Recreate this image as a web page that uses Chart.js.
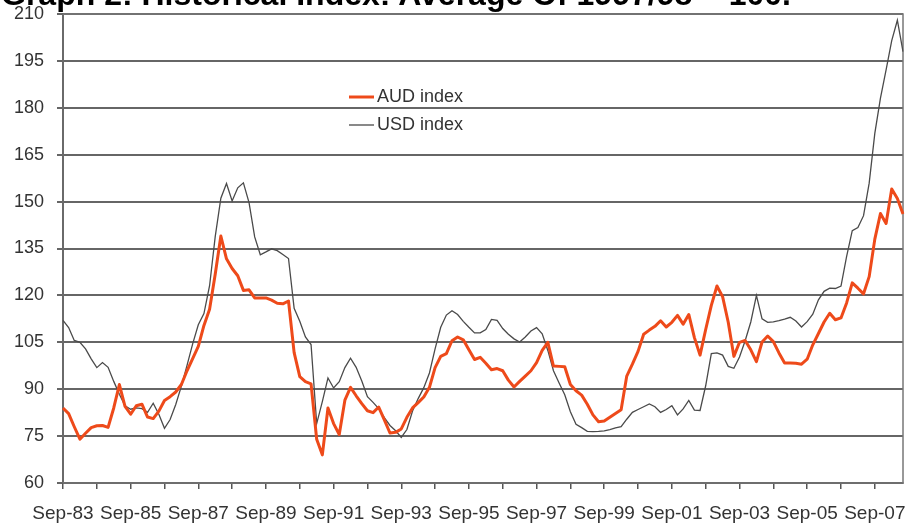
<!DOCTYPE html>
<html>
<head>
<meta charset="utf-8">
<script src="https://cdn.jsdelivr.net/npm/chart.js@4"></script>
<style>
html, body { margin: 0; padding: 0; background: #fff; overflow: hidden; }
#wrap { position: relative; width: 909px; height: 524px; }
#c { position: absolute; left: 0; top: 0; }
#title { position: absolute; left: 1px; top: -22px; font: bold 32px "Liberation Sans", Arial, sans-serif; line-height: 32px; white-space: nowrap; color: #000; }
</style>
</head>
<body>
<div id="wrap">
  <canvas id="c" width="909" height="524"></canvas>
  <div id="title">Graph 2: Historical Index: Average Of 1997/98 = 100.</div>
</div>
<script>
// Eksen etiketleri
const TICK_LABELS = ['Sep-83', 'Sep-85', 'Sep-87', 'Sep-89', 'Sep-91', 'Sep-93', 'Sep-95',
    'Sep-97', 'Sep-99', 'Sep-01', 'Sep-03', 'Sep-05', 'Sep-07'];
const Y_MIN = 60, Y_MAX = 210, Y_STEP = 15;

// Iki ayda bir okunan degerler (Sep-83 .. Jul-08)
const AUD_INDEX = [
    84, 82.2, 78, 74, 75.9, 77.7, 78.3, 78.4, 77.8, 84, 91.5, 84.5,
    82, 84.7, 85.2, 81.1, 80.6, 83, 86.4, 87.6, 89.1, 91.5, 95.9, 99.8,
    103.7, 110.4, 115.6, 126.8, 139, 131.7, 128.6, 126.3, 121.6, 121.8, 119.2, 119.2,
    119.2, 118.5, 117.5, 117.3, 118.2, 101.7, 94, 92.4, 91.7, 74, 69, 84,
    79, 75.5, 86.5, 90.6, 87.9, 85.4, 83.1, 82.5, 84.3, 80.2, 76, 76.2,
    77.3, 81, 84, 85.7, 87.5, 90.6, 96.9, 100.5, 101.4, 105.5, 106.7, 105.8,
    102.6, 99.5, 100.2, 98.3, 96.2, 96.6, 95.9, 92.9, 90.7, 92.5, 94.2, 95.9,
    98.5, 102.4, 105, 97.4, 97.3, 97.2, 91.5, 89.5, 88.1, 85.2, 81.8, 79.6,
    79.8, 81, 82.2, 83.4, 94.2, 98, 102.1, 107.6, 108.9, 110.1, 111.9, 109.9,
    111.4, 113.6, 110.8, 113.9, 106.5, 100.9, 109.1, 116.8, 123, 119.6, 111.4, 100.5,
    105, 105.6, 102.6, 98.8, 105.1, 107, 105.2, 101.6, 98.4, 98.4, 98.3, 98,
    99.6, 104.2, 107.8, 111.5, 114.3, 112.2, 112.8, 117.6, 124, 122.3, 120.5, 126,
    138, 146.2, 143, 154, 151, 146
];
const USD_INDEX = [
    112, 109.7, 105.6, 105, 102.9, 99.7, 96.9, 98.5, 97, 92.5, 88.4, 84.7,
    83.6, 84, 83.8, 82.6, 85.5, 82, 77.5, 80.3, 85.1, 91, 97.6, 104.5,
    110.6, 114.2, 123.1, 138.8, 151.1, 155.8, 150.2, 154.4, 156, 149.7, 138.7, 133,
    133.9, 134.9, 134.3, 133.1, 131.8, 115.9, 111.7, 106.7, 104.3, 79, 86, 93.6,
    90.4, 92.4, 96.9, 99.9, 97, 92.6, 87.6, 85.8, 83.8, 80.9, 78.4, 76.7,
    74.6, 77.1, 83, 87, 90.5, 95.2, 102.9, 109.8, 113.7, 115.1, 113.9, 111.7,
    109.8, 108, 108, 109.1, 112.3, 112, 109.4, 107.6, 106.1, 105.1, 106.7, 108.6,
    109.7, 107.7, 102.4, 95.9, 92, 88.2, 82.8, 78.8, 77.7, 76.5, 76.4, 76.5,
    76.7, 77.1, 77.6, 78, 80.4, 82.6, 83.5, 84.4, 85.3, 84.4, 82.6, 83.5,
    84.7, 81.8, 83.7, 86.4, 83.3, 83.2, 91.1, 101.4, 101.6, 100.9, 97.3, 96.7,
    100.3, 105.5, 111.5, 120, 112.5, 111.4, 111.5, 111.9, 112.4, 113, 111.8, 109.9,
    111.6, 114, 118.6, 121.3, 122.3, 122.2, 123, 132.5, 140.7, 141.7, 145.5, 155.9,
    171.8, 183.1, 192.1, 201.5, 208, 198
];

// Kategori etiketleri: Sep-83'ten itibaren iki ayda bir
const AY = ['Jan', 'Feb', 'Mar', 'Apr', 'May', 'Jun', 'Jul', 'Aug', 'Sep', 'Oct', 'Nov', 'Dec'];
const months = AUD_INDEX.map((_, i) => {
    const m = 8 + i * 2;
    const yil = (83 + Math.floor(m / 12)) % 100;
    return `${AY[m % 12]}-${String(yil).padStart(2, '0')}`;
});

const FONT = '"Liberation Sans", Arial, sans-serif';

// Cerceve
const frame = {
    id: 'frame',
    beforeDatasetsDraw(chart) {
        const { ctx, chartArea: a } = chart;
        ctx.save();
        ctx.strokeStyle = '#777';
        ctx.lineWidth = 1.5;
        ctx.strokeRect(a.left, a.top, a.right - a.left, a.bottom - a.top);
        ctx.restore();
    }
};

// Lejant (grafik icinde)
const legendBox = {
    id: 'legendBox',
    afterDraw(chart) {
        const ctx = chart.ctx;
        ctx.save();
        ctx.font = `18px ${FONT}`;
        ctx.textBaseline = 'middle';
        chart.data.datasets.forEach((ds, k) => {
            const y = 97 + k * 28;
            ctx.strokeStyle = ds.borderColor;
            ctx.lineWidth = ds.borderWidth;
            ctx.beginPath();
            ctx.moveTo(349, y);
            ctx.lineTo(374, y);
            ctx.stroke();
            ctx.fillStyle = '#333';
            ctx.fillText(ds.label, 377, y);
        });
        ctx.restore();
    }
};

// Eksen boyutlarini sabitle
const fitX = (s) => { s.height = 41; s.paddingLeft = 0; s.paddingRight = 0; };
const fitY = (s) => { s.width = 63; s.paddingTop = 0; s.paddingBottom = 0; };

new Chart(document.getElementById('c'), {
    type: 'line',
    data: {
        labels: months,
        datasets: [
            {
                label: 'AUD index',
                data: AUD_INDEX,
                borderColor: '#ee4a1a',
                borderWidth: 3,
                pointRadius: 0,
                tension: 0,
                borderJoinStyle: 'round'
            },
            {
                label: 'USD index',
                data: USD_INDEX,
                borderColor: '#4a4a4a',
                borderWidth: 1.3,
                pointRadius: 0,
                tension: 0
            }
        ]
    },
    options: {
        responsive: false,
        animation: false,
        layout: { padding: { top: 14, right: 6, left: 0, bottom: 0 } },
        plugins: { legend: { display: false }, tooltip: { enabled: false } },
        scales: {
            x: {
                afterFit: fitX,
                grid: {
                    drawOnChartArea: false,
                    tickLength: 6,
                    lineWidth: 1.5,
                    color: (c) => c.index % 6 === 0 ? '#555' : 'rgba(0,0,0,0)'
                },
                border: { color: '#555', width: 2 },
                ticks: {
                    autoSkip: false,
                    maxRotation: 0,
                    minRotation: 0,
                    padding: 13,
                    color: '#333',
                    font: { family: FONT, size: 19 },
                    callback: (v, i) => i % 12 === 0 ? TICK_LABELS[i / 12] : ''
                }
            },
            y: {
                min: Y_MIN,
                max: Y_MAX,
                afterFit: fitY,
                grid: { color: '#666', lineWidth: 2, tickLength: 6 },
                border: { color: '#444', width: 2 },
                ticks: {
                    stepSize: Y_STEP,
                    padding: 13,
                    color: '#333',
                    font: { family: FONT, size: 18 }
                }
            }
        }
    },
    plugins: [frame, legendBox]
});
</script>
</body>
</html>
